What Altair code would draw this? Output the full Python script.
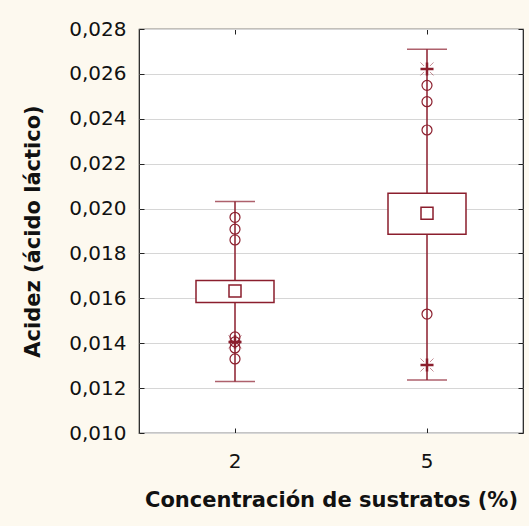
import altair as alt
import pandas as pd

# ---- data ----
groups = ["2", "5"]
whisker_low = [0.01229, 0.01236]
whisker_high = [0.02031, 0.02710]
box_low = [0.01581, 0.01885]
box_high = [0.01679, 0.02068]
means = [0.01633, 0.01979]

outlier_group = ["2", "2", "2", "2", "2", "2", "2", "5", "5", "5", "5"]
outlier_value = [0.01961, 0.01908, 0.01860, 0.01428, 0.01406, 0.01379, 0.01330,
                 0.02549, 0.02476, 0.02350, 0.01530]

extreme_group = ["2", "5", "5"]
extreme_value = [0.01406, 0.02622, 0.01303]

y_ticks = [0.010, 0.012, 0.014, 0.016, 0.018, 0.020, 0.022, 0.024, 0.026, 0.028]

RED = "#8B1E2D"
FONT = "DejaVu Sans"
W, H = 384, 404
TICK = 5

summary = pd.DataFrame({
    "group": groups, "wlo": whisker_low, "whi": whisker_high,
    "blo": box_low, "bhi": box_high, "mean": means,
})
outliers = pd.DataFrame({"group": outlier_group, "value": outlier_value})
extremes = pd.DataFrame({"group": extreme_group, "value": extreme_value})

xscale = alt.Scale(type="band", domain=groups, paddingInner=0, paddingOuter=0)
yscale = alt.Scale(domain=[0.010, 0.028], nice=False, zero=False)

label_expr = "replace(format(datum.value, '.3f'), '.', ',')"

x_main = alt.X("group:N", scale=xscale,
               axis=alt.Axis(title="Concentración de sustratos (%)", orient="bottom",
                             ticks=False, labelPadding=18, domain=False,
                             labelAngle=0, grid=False, titlePadding=18))
y_main = alt.Y("wlo:Q", scale=yscale,
               axis=alt.Axis(title="Acidez (ácido láctico)", orient="left",
                             values=y_ticks, ticks=False, labelPadding=13,
                             domain=False, grid=True, labelExpr=label_expr,
                             titlePadding=25))

whisker = alt.Chart(summary).mark_rule(color=RED, strokeWidth=1.5).encode(
    x=x_main, y=y_main, y2="whi:Q")

caps_lo = alt.Chart(summary).mark_tick(color=RED, size=40, thickness=1.5).encode(
    x=alt.X("group:N", scale=xscale), y=alt.Y("wlo:Q", scale=yscale))
caps_hi = alt.Chart(summary).mark_tick(color=RED, size=40, thickness=1.5).encode(
    x=alt.X("group:N", scale=xscale), y=alt.Y("whi:Q", scale=yscale))

box = alt.Chart(summary).mark_bar(size=78, fill="white", stroke=RED, strokeWidth=1.5).encode(
    x=alt.X("group:N", scale=xscale), y=alt.Y("blo:Q", scale=yscale), y2="bhi:Q")

mean_pt = alt.Chart(summary).mark_point(shape="square", size=144, filled=False,
                                        color=RED, strokeWidth=1.5, opacity=1).encode(
    x=alt.X("group:N", scale=xscale), y=alt.Y("mean:Q", scale=yscale))

circ = alt.Chart(outliers).mark_point(shape="circle", size=100, filled=False,
                                      color=RED, strokeWidth=1.2, opacity=1).encode(
    x=alt.X("group:N", scale=xscale), y=alt.Y("value:Q", scale=yscale))

star_plus = alt.Chart(extremes).mark_point(shape="M-1,0L1,0M0,-1L0,1", size=170, filled=False,
                                           color=RED, strokeWidth=2.5, opacity=1).encode(
    x=alt.X("group:N", scale=xscale), y=alt.Y("value:Q", scale=yscale))
star_diag = alt.Chart(extremes).mark_point(
    shape="M-1,-1L-0.45,-0.45M0.45,0.45L1,1M-1,1L-0.45,0.45M0.45,-0.45L1,-1",
    size=170, filled=False, color=RED, strokeWidth=1, opacity=0.5).encode(
    x=alt.X("group:N", scale=xscale), y=alt.Y("value:Q", scale=yscale))

base = alt.layer(whisker, caps_lo, caps_hi, box, mean_pt, circ, star_plus, star_diag)

# inward ticks on all four edges: short dashed grid segments at both ends
ticks_layer = alt.Chart(summary).mark_point(opacity=0).encode(
    x=alt.X("group:N", scale=xscale,
            axis=alt.Axis(orient="top", ticks=False, labels=False, domain=False,
                          grid=True, gridColor="#222222", gridWidth=1,
                          gridDash=[TICK, H - 2 * TICK, TICK], title=None)),
    y=alt.Y("mean:Q", scale=yscale,
            axis=alt.Axis(orient="right", values=y_ticks, ticks=False, labels=False,
                          domain=False, grid=True, gridColor="#222222", gridWidth=1,
                          gridDash=[TICK, W - 2 * TICK, TICK], title=None)))

chart = alt.layer(base, ticks_layer).resolve_scale(
    x="independent", y="independent"
).properties(
    width=W, height=H,
    padding={"left": 139, "top": 29, "right": 6, "bottom": 93},
    autosize=alt.AutoSizeParams(type="none"),
    background="#FDF9EF",
).configure_view(
    fill="white", stroke="#1a1a1a", strokeWidth=1.2
).configure_axis(
    labelFont=FONT, labelFontSize=20, labelColor="#111111",
    titleFont=FONT, titleFontSize=21, titleFontWeight="bold", titleColor="#111111",
    gridColor="#D6D6D6", gridWidth=1,
)

chart.save("out.html", embed_options={"renderer": "svg", "actions": False})
